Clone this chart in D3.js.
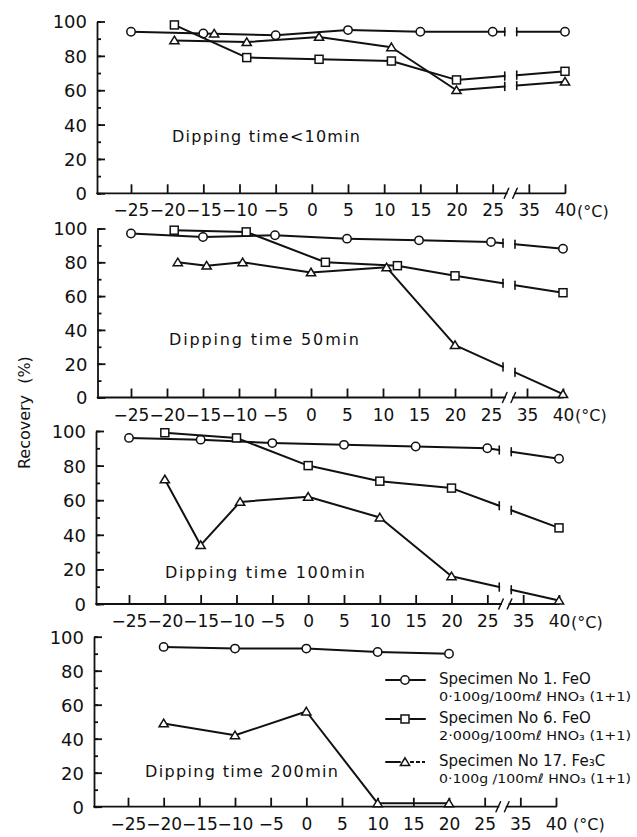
<!DOCTYPE html>
<html>
<head>
<meta charset="utf-8">
<script src="https://cdn.jsdelivr.net/npm/d3@7"></script>
<style>
  html, body { margin: 0; background: #fff; }
  svg { display: block; }
  text { font-family: "DejaVu Sans", sans-serif; fill: #111; }
</style>
</head>
<body>
<svg id="chart" width="637" height="837"></svg>
<script>
// ---- data -------------------------------------------------------------
const tempTicks = [-25, -20, -15, -10, -5, 0, 5, 10, 15, 20, 25, 35, 40];
const recoveryTicks = [0, 20, 40, 60, 80, 100];
const recoveryMinor = [0, 10, 20, 30, 40, 50, 60, 70, 80, 90, 100];
const dippingTimes = ["Dipping time<10min", "Dipping time 50min", "Dipping time 100min", "Dipping time 200min"];
const specimenNames = ["Specimen No 1. FeO", "Specimen No 6. FeO", "Specimen No 17. Fe\u2083C"];
const specimenConds = ["0\u00b7100g/100m\u2113 HNO\u2083 (1+1)", "2\u00b7000g/100m\u2113 HNO\u2083 (1+1)", "0\u00b7100g /100m\u2113 HNO\u2083 (1+1)"];

// [temperature (°C), recovery (%)]
// Specimen No 1, FeO 0.100 g
const no1_10  = [[-25, 94], [-15, 93], [-5, 92], [5, 95], [15, 94], [25, 94], [40, 94]];
const no1_50  = [[-25, 97], [-15, 95], [-5, 96], [5, 94], [15, 93], [25, 92], [40, 88]];
const no1_100 = [[-25, 96], [-15, 95], [-5, 93], [5, 92], [15, 91], [25, 90], [40, 84]];
const no1_200 = [[-20, 94], [-10, 93], [0, 93], [10, 91], [20, 90]];
// Specimen No 6, FeO 2.000 g
const no6_10  = [[-19, 98], [-9, 79], [1, 78], [11, 77], [20, 66], [40, 71]];
const no6_50  = [[-19, 99], [-9, 98], [2, 80], [12, 78], [20, 72], [40, 62]];
const no6_100 = [[-20, 99], [-10, 96], [0, 80], [10, 71], [20, 67], [40, 44]];
// Specimen No 17, Fe3C 0.100 g
const no17_10  = [[-19, 89], [-9, 88], [1, 91], [11, 85], [20, 60], [40, 65]];
const no17_10_single = [[-13.5, 93]];
const no17_50  = [[-18.5, 80], [-14.5, 78], [-9.5, 80], [0, 74], [10.5, 77], [20, 31], [40, 2]];
const no17_100 = [[-20, 72], [-15, 34], [-9.5, 59], [0, 62], [10, 50], [20, 16], [40, 2]];
const no17_200 = [[-20, 49], [-10, 42], [0, 56], [10, 2], [20, 2]];

const panelSeries = [
  [{pts: no1_10, shape: "circle"}, {pts: no6_10, shape: "square"}, {pts: no17_10, shape: "triangle"},
   {pts: no17_10_single, shape: "triangle", noLine: true}],
  [{pts: no1_50, shape: "circle"}, {pts: no6_50, shape: "square"}, {pts: no17_50, shape: "triangle"}],
  [{pts: no1_100, shape: "circle"}, {pts: no6_100, shape: "square"}, {pts: no17_100, shape: "triangle"}],
  [{pts: no1_200, shape: "circle"}, {pts: no17_200, shape: "triangle"}]
];

// ---- layout -----------------------------------------------------------
const panels = [
  {top: 21.5,  bottom: 193.3, axisX: 97,   xa: 131, xb: 565, tx: 172, ty: 141.7, tw: 188, unitGap: 12},
  {top: 228.5, bottom: 397.5, axisX: 97.5, xa: 131, xb: 563, tx: 169, ty: 345,   tw: 190, unitGap: 12},
  {top: 431,   bottom: 604,   axisX: 96,   xa: 129, xb: 559, tx: 165, ty: 578,   tw: 200, unitGap: 12},
  {top: 636.7, bottom: 806.7, axisX: 94,   xa: 128, xb: 556, tx: 145, ty: 777,   tw: 193, unitGap: 17}
];
const ink = "#111";

const svg = d3.select("#chart");

function marker(g, shape, cx, cy) {
  let m;
  if (shape === "circle") {
    m = g.append("circle").attr("cx", cx).attr("cy", cy).attr("r", 4.2);
  } else if (shape === "square") {
    m = g.append("rect").attr("x", cx - 4).attr("y", cy - 4).attr("width", 8).attr("height", 8);
  } else {
    m = g.append("path").attr("d", `M${cx},${cy - 4.2}L${cx + 4.6},${cy + 3.4}L${cx - 4.6},${cy + 3.4}Z`);
  }
  m.attr("fill", "#fff").attr("stroke", ink).attr("stroke-width", 1.5);
}

function seg(g, x1, y1, x2, y2, w) {
  g.append("line").attr("x1", x1).attr("y1", y1).attr("x2", x2).attr("y2", y2)
    .attr("stroke", ink).attr("stroke-width", w || 2).attr("stroke-linecap", "round");
}

panels.forEach((p, pi) => {
  const step = (p.xb - p.xa) / 12;
  const x = d3.scaleLinear().domain([-25, 25, 35, 40])
    .range([p.xa, p.xa + 10 * step, p.xa + 11 * step, p.xa + 12 * step]);
  const y = d3.scaleLinear().domain([0, 100]).range([p.bottom, p.top]);
  const mid = (x(25) + x(35)) / 2;
  const g = svg.append("g");

  // y axis: minor ticks every 10, major every 20 with labels
  const gyMinor = g.append("g").attr("transform", `translate(${p.axisX},0)`).attr("color", ink)
    .call(d3.axisLeft(y).tickValues(recoveryMinor).tickSize(-4).tickSizeOuter(0).tickFormat(""));
  gyMinor.select(".domain").remove();
  const gy = g.append("g").attr("transform", `translate(${p.axisX},0)`).attr("color", ink)
    .call(d3.axisLeft(y).tickValues(recoveryTicks).tickSize(-8).tickSizeOuter(0).tickPadding(10));
  gy.selectAll("text").attr("font-size", 18).attr("font-family", "DejaVu Sans, sans-serif").attr("dy", "0.36em");
  g.selectAll("path, line").attr("stroke-width", 1.8);

  // x axis ticks and labels
  const gx = g.append("g").attr("transform", `translate(0,${p.bottom})`).attr("color", ink)
    .call(d3.axisBottom(x).tickValues(tempTicks).tickSize(-9).tickSizeOuter(0).tickPadding(11));
  gx.select(".domain").remove();
  gx.selectAll("line").attr("stroke-width", 1.8);
  gx.selectAll("text").attr("font-size", 17).attr("font-family", "DejaVu Sans, sans-serif");
  g.append("text").attr("x", x(40) + p.unitGap).attr("y", p.bottom + 23.5).attr("font-size", 16).text("(\u00b0C)");

  // x axis line with a break between 25 and 35
  seg(g, p.axisX, p.bottom, mid - 4, p.bottom, 1.8);
  seg(g, mid + 4, p.bottom, x(40), p.bottom, 1.8);
  seg(g, mid - 6.5, p.bottom + 5, mid - 2, p.bottom - 5, 1.5);
  seg(g, mid + 2, p.bottom + 5, mid + 6.5, p.bottom - 5, 1.5);

  // panel caption
  g.append("text").attr("x", p.tx).attr("y", p.ty).attr("font-size", 16)
    .attr("textLength", p.tw).attr("lengthAdjust", "spacing").text(dippingTimes[pi]);

  // series
  panelSeries[pi].forEach(s => {
    const P = s.pts.map(d => [x(d[0]), y(d[1])]);
    if (!s.noLine) {
      for (let i = 0; i < P.length - 1; i++) {
        const [ax, ay] = P[i], [bx, by] = P[i + 1];
        if (s.pts[i][0] <= 25 && s.pts[i + 1][0] >= 35) {
          const l = mid - 6, r = mid + 6;
          const yl = ay + (by - ay) * (l - ax) / (bx - ax);
          const yr = ay + (by - ay) * (r - ax) / (bx - ax);
          seg(g, ax, ay, l, yl);
          seg(g, r, yr, bx, by);
          seg(g, l, yl - 4, l, yl + 4, 1.6);
          seg(g, r, yr - 4, r, yr + 4, 1.6);
        } else {
          seg(g, ax, ay, bx, by);
        }
      }
    }
    P.forEach(([cx, cy]) => marker(g, s.shape, cx, cy));
  });
});

// y axis title
svg.append("text").attr("transform", "translate(30,432) rotate(-90)")
  .attr("text-anchor", "middle").attr("font-size", 16).text("Recovery");
svg.append("text").attr("transform", "translate(30,370) rotate(-90)")
  .attr("text-anchor", "middle").attr("font-size", 16).text("(%)");

// legend
const legendShapes = ["circle", "square", "triangle"];
const legendY = [684, 723, 766];
const lg = svg.append("g");
legendShapes.forEach((shape, i) => {
  const cy = legendY[i] - 4;
  seg(lg, 386, cy, 400, cy, 2);
  if (shape === "triangle") {
    lg.append("line").attr("x1", 410).attr("y1", cy).attr("x2", 425).attr("y2", cy)
      .attr("stroke", ink).attr("stroke-width", 2).attr("stroke-dasharray", "4,2");
  } else {
    seg(lg, 410, cy, 425, cy, 2);
  }
  marker(lg, shape, 405, cy);
  lg.append("text").attr("x", 439).attr("y", legendY[i]).attr("font-size", 15).text(specimenNames[i]);
  lg.append("text").attr("x", 439).attr("y", legendY[i] + 17).attr("font-size", 13)
    .attr("textLength", 192).attr("lengthAdjust", "spacingAndGlyphs").text(specimenConds[i]);
});
</script>
</body>
</html>
